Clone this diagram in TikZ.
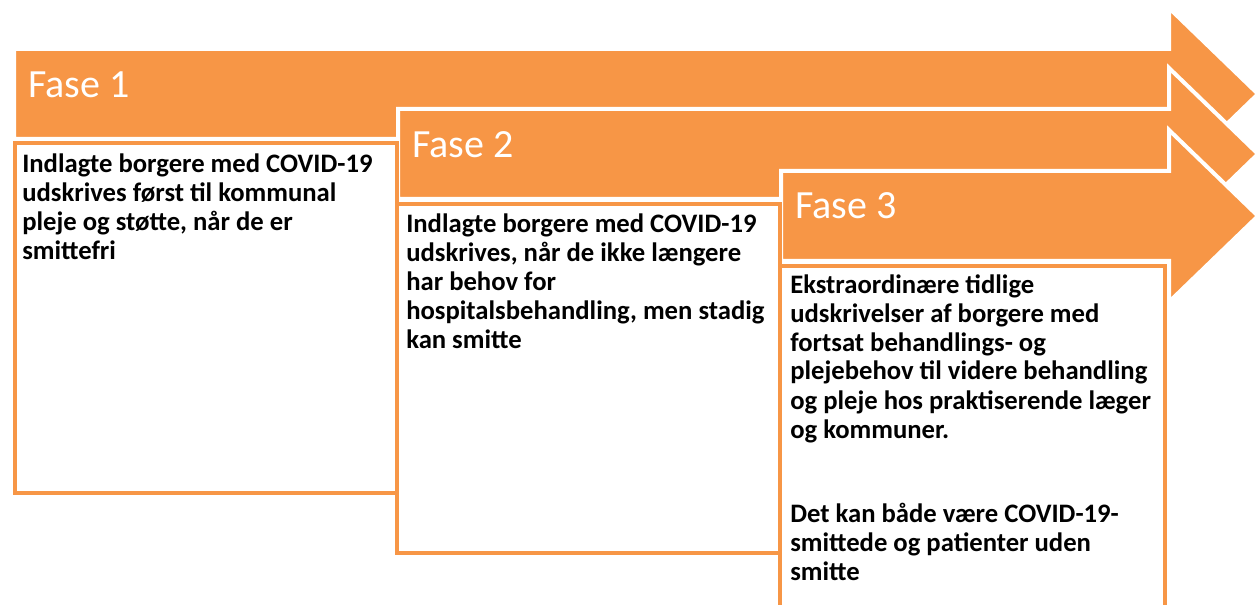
\documentclass[tikz,border=0pt]{standalone}
\usepackage{fontspec}
\setmainfont{Carlito}
\definecolor{acc}{HTML}{F79646}
\begin{document}
\begin{tikzpicture}[x=0.75pt,y=-0.75pt,
  arrowshape/.style={fill=acc,draw=white,line width=3pt,miter limit=10},
  boxshape/.style={draw=acc,line width=3pt,fill=white,line join=miter},
  phase/.style={anchor=base west,inner sep=0pt,text=white,font=\fontsize{30}{36}\selectfont},
  bodytext/.style={anchor=base west,inner sep=0pt,align=left,font=\fontsize{20}{21.75}\selectfont\bfseries}]
\useasboundingbox (0,0) rectangle (1256,605);
% arrows
\draw[arrowshape] (14,49) -- (1169,49) -- (1169,8) -- (1258,94) -- (1169,180) -- (1169,139) -- (14,139) -- cycle;
\draw[arrowshape] (398,109) -- (1169,109) -- (1169,68) -- (1258,154) -- (1169,240) -- (1169,199) -- (398,199) -- cycle;
\draw[arrowshape] (781,171) -- (1169,171) -- (1169,130) -- (1258,216) -- (1169,302) -- (1169,261) -- (781,261) -- cycle;
% boxes
\draw[boxshape] (15,143) rectangle (397,493);
\draw[boxshape] (397,204.5) rectangle (780,553);
\draw[boxshape] (780,266) rectangle (1165,625);
% labels
\node[phase] (f1) at (28,98) {Fase 1};
\node[phase] (f2) at (412,158) {Fase 2};
\node[phase] (f3) at (795,219) {Fase 3};
% texts (anchored at the baseline of the last line)
\node[bodytext] (t1) at (22,260) {Indlagte borgere med COVID-19\\udskrives først til kommunal\\pleje og støtte, når de er\\smittefri};
\node[bodytext] (t2) at (406,349) {Indlagte borgere med COVID-19\\udskrives, når de ikke længere\\har behov for\\hospitalsbehandling, men stadig\\kan smitte};
\node[bodytext] (t3) at (790,580) {Ekstraordinære tidlige\\udskrivelser af borgere med\\fortsat behandlings- og\\plejebehov til videre behandling\\og pleje hos praktiserende læger\\og kommuner.\\[41.25pt]Det kan både være COVID-19-\\smittede og patienter uden\\smitte};
\end{tikzpicture}
\end{document}
